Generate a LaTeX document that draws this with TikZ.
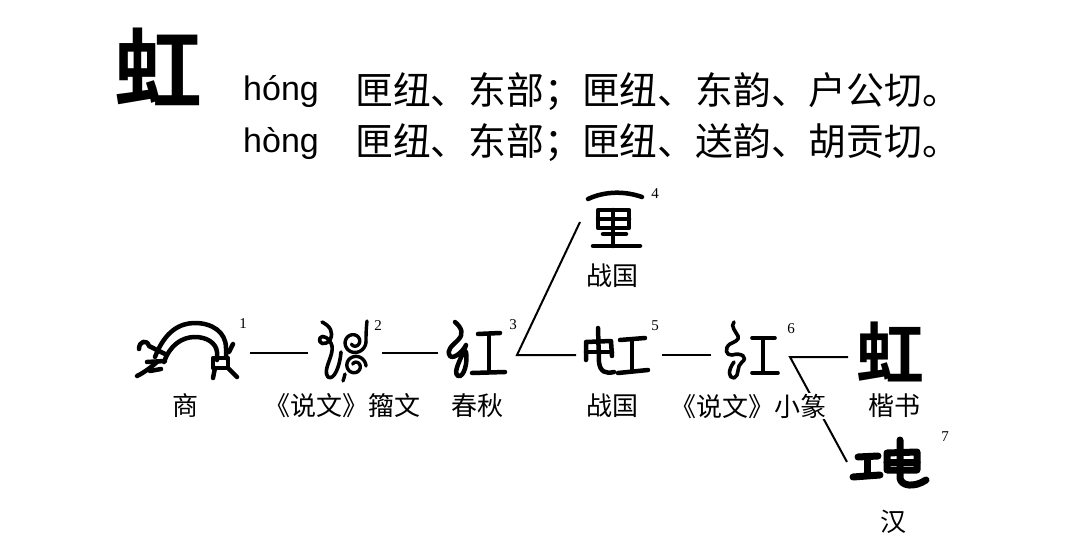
\documentclass[tikz,border=0pt]{standalone}
\usepackage{fontspec}
\setmainfont{Liberation Serif}
\newfontfamily\cjk{Noto Sans CJK SC}
\newfontfamily\cjkbold{Noto Sans CJK SC Bold}
\newfontfamily\latinsans{Liberation Sans}
\begin{document}
\begin{tikzpicture}[x=1pt,y=-1pt,
  glyph/.style={line width=4.5pt,line cap=round,line join=round},
  thinglyph/.style={line width=3.6pt,line cap=round,line join=round},
  spiralglyph/.style={line width=3.4pt,line cap=round,line join=round},
  fatglyph/.style={line width=7pt,line cap=round,line join=round},
  conn/.style={line width=2pt},
  lbl/.style={inner sep=0pt,font=\cjk\fontsize{26}{26}\selectfont},
  num/.style={inner sep=0pt,font=\fontsize{15}{15}\selectfont},
  py/.style={inner sep=0pt,anchor=base west,font=\latinsans\fontsize{34}{34}\selectfont},
  zh/.style={inner sep=0pt,anchor=west,font=\cjk\fontsize{37.8}{37.8}\selectfont}]
\useasboundingbox[fill=white] (0,0) rectangle (1080,551);

% header
\node[inner sep=0pt,font=\cjkbold\fontsize{88}{88}\selectfont] (big) at (158,67) {虹};
\node[py] (p1) at (243,100) {hóng};
\node[zh] (z1) at (355,91.5) {匣纽、东部；匣纽、东韵、户公切。};
\node[py] (p2) at (243,152) {hòng};
\node[zh] (z2) at (355,142.5) {匣纽、东部；匣纽、送韵、胡贡切。};

% labels
\node[lbl] (l1) at (185,406) {商};
\node[lbl] (l2) at (342,406) {《说文》籀文};
\node[lbl] (l3) at (477,406) {春秋};
\node[lbl] (l4) at (612,276) {战国};
\node[lbl] (l5) at (612,406) {战国};
\node[lbl] (l8) at (894,406) {楷书};
\node[lbl] (l7) at (893,522) {汉};

% superscript numbers
\node[num] (n1) at (243,324) {1};
\node[num] (n2) at (378,326) {2};
\node[num] (n3) at (513,325) {3};
\node[num] (n4) at (655,194) {4};
\node[num] (n5) at (655,326) {5};
\node[num] (n6) at (791,329) {6};
\node[num] (n7) at (945,437) {7};

% connector coordinates
\coordinate (a1) at (250,353); \coordinate (b2) at (308,353);
\coordinate (a2) at (382,353); \coordinate (b3) at (438,353);
\coordinate (v3) at (517,355); \coordinate (b4) at (580,222); \coordinate (b5) at (576,355);
\coordinate (a5) at (662,355); \coordinate (b6) at (711,355);
\coordinate (v6) at (790,357); \coordinate (b8) at (848,357); \coordinate (b7) at (847,462);

\draw[conn] (a1) -- (b2);
\draw[conn] (a2) -- (b3);
\draw[conn] (b4) -- (v3) -- (b5);
\draw[conn] (a5) -- (b6);
\draw[conn] (b8) -- (v6) -- (b7);
\node[lbl,fill=white,inner sep=1pt] (l6) at (748,406) {《说文》小篆};

% glyph 1 (Shang)
\draw[glyph] (155,357) .. controls (165,331) and (180,323) .. (195,323) .. controls (212,323) and (226,332) .. (226,348) -- (226,358);
\draw[glyph] (164,362) .. controls (170,345) and (182,337) .. (195,337) .. controls (207,337) and (216,343) .. (217,352) -- (217,360);
\draw[glyph] (139,349) .. controls (139,341) and (147,339) .. (149,346) -- (165,354);
\draw[glyph] (147,362) -- (165,361);
\draw[glyph] (157,362) .. controls (150,368) and (145,372) .. (137,376);
\draw[glyph] (150,371) -- (161,369);
\draw[glyph] (213,358) rectangle (228,368);
\draw[glyph] (215,368) -- (213,378);
\draw[glyph] (228,368) -- (237,377);
\draw[glyph] (229,352) -- (233,344);

% glyph 2 (zhouwen)
\draw[spiralglyph] plot[variable=\t,domain=0:500,samples=90,smooth] ({354+12*(1-\t/680)*cos(\t)},{342+12*(1-\t/680)*sin(\t)});
\draw[spiralglyph] plot[variable=\t,domain=0:500,samples=90,smooth] ({355+11*(1-\t/680)*cos(\t)},{366-11*(1-\t/680)*sin(\t)});
\draw[spiralglyph] (367,321) .. controls (366,330) and (366,336) .. (366,342);
\draw[thinglyph] (322,322) .. controls (330,326) and (334,332) .. (330,340) .. controls (325,346) and (318,344) .. (320,338) .. controls (322,334) and (330,338) .. (332,346) .. controls (334,356) and (322,370) .. (328,377) .. controls (334,381) and (340,366) .. (341,352);
\draw[spiralglyph] (345,374) .. controls (344,377) and (344,379) .. (343,381);

% glyph 3 (Chunqiu)
\draw[glyph] (455,322) .. controls (462,328) and (464,334) .. (458,340) .. controls (452,346) and (446,350) .. (450,356) .. controls (454,360) and (464,350) .. (466,345) .. controls (462,358) and (452,372) .. (458,376) .. controls (464,378) and (468,362) .. (466,352);
\draw[glyph] (478,334) -- (500,333);
\draw[glyph] (489,334) -- (489,372);
\draw[glyph] (472,373) -- (505,372);

% glyph 4 (Zhanguo, upper)
\draw[glyph] (588,199) .. controls (605,191) and (625,191) .. (642,197);
\draw[glyph] (598,210) rectangle (629,228);
\draw[glyph] (598,219) -- (629,219);
\draw[glyph] (613,210) -- (613,246);
\draw[glyph] (603,234) -- (626,234);
\draw[glyph] (593,246) -- (640,246);

% glyph 5 (Zhanguo)
\draw[glyph] (598,328) -- (599,362) .. controls (600,372) and (606,374) .. (614,372);
\draw[glyph] (586,360) -- (586,342) -- (611,341) -- (612,356);
\draw[glyph] (586,352) -- (612,352);
\draw[glyph] (620,340) -- (645,338);
\draw[glyph] (632,340) -- (632,371);
\draw[glyph] (618,373) -- (648,370);

% glyph 6 (Xiaozhuan)
\draw[thinglyph] (734,322) .. controls (730,326) and (736,332) .. (738,336) .. controls (740,340) and (734,342) .. (730,344) .. controls (724,348) and (726,356) .. (732,355) .. controls (742,352) and (748,358) .. (742,362) .. controls (736,366) and (740,376) .. (734,378) .. controls (728,378) and (728,370) .. (734,362);
\draw[thinglyph] (752,338) -- (775,338);
\draw[thinglyph] (763,338) -- (763,372);
\draw[thinglyph] (752,373) -- (778,373);

% glyph kaishu
\node[inner sep=0pt,font=\cjkbold\fontsize{68}{68}\selectfont] (g8) at (890,352) {虹};

% glyph 7 (Han)
\draw[fatglyph] (858,457) -- (878,456);
\draw[fatglyph] (867,457) -- (867,475);
\draw[fatglyph] (853,477) -- (880,475);
\draw[fatglyph] (900,440) -- (900,478) .. controls (901,486) and (914,488) .. (926,480);
\draw[fatglyph] (887,470) -- (887,453) -- (917,452) -- (917,470) -- cycle;
\draw[fatglyph] (887,462) -- (917,462);
\end{tikzpicture}
\end{document}
